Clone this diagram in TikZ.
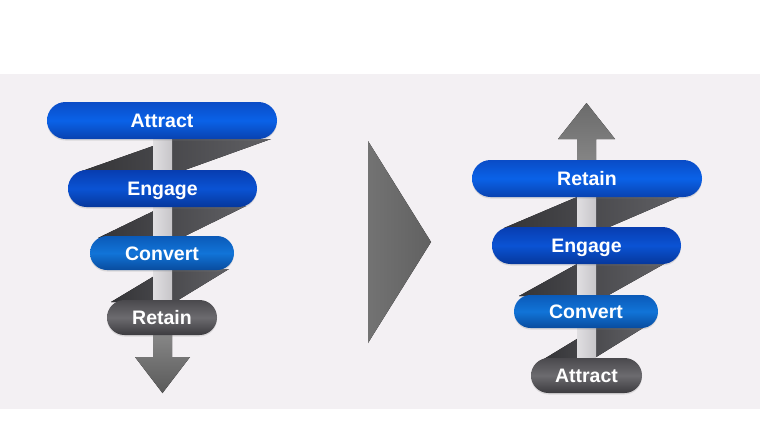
\documentclass[tikz,border=0pt]{standalone}
\usepackage{fontspec}
\setmainfont{Liberation Sans}
\usetikzlibrary{shapes.misc,shadows}
\definecolor{bgband}{HTML}{F3F0F3}
\definecolor{shaftc}{HTML}{D8D6DA}
\definecolor{bandL}{HTML}{343437}
\definecolor{bandR}{HTML}{606064}
\definecolor{aTop}{HTML}{0A4CC6}\definecolor{aMid}{HTML}{0A62E8}\definecolor{aBot}{HTML}{0942B0}
\definecolor{eTop}{HTML}{083DB0}\definecolor{eMid}{HTML}{0A53D4}\definecolor{eBot}{HTML}{06379C}
\definecolor{cTop}{HTML}{0B5AB8}\definecolor{cMid}{HTML}{1174D8}\definecolor{cBot}{HTML}{094C9E}
\definecolor{gTop}{HTML}{4A494D}\definecolor{gMid}{HTML}{6C6B6F}\definecolor{gBot}{HTML}{3C3B3F}
\tikzset{
  pill/.style={rounded rectangle, inner sep=0pt, text=white,
    font=\fontsize{19.5}{21}\selectfont\bfseries, text height=14pt, text depth=0pt,
    drop shadow={shadow xshift=0pt, shadow yshift=-1.5pt, opacity=0.22}},
  pillshade/.style n args={3}{top color=#1, bottom color=#3, middle color=#2},
  attractc/.style={pill, pillshade={aTop}{aMid}{aBot}},
  engagec/.style={pill, pillshade={eTop}{eMid}{eBot}},
  convertc/.style={pill, pillshade={cTop}{cMid}{cBot}},
  greyc/.style={pill, pillshade={gTop}{gMid}{gBot}},
  band/.style={left color=bandL, right color=bandR},
  lightshaft/.style={left color=shaftc!80!white, right color=shaftc!92!black},
}
\begin{document}
\begin{tikzpicture}[x=1pt,y=-1pt]
\useasboundingbox (0,0) rectangle (760,445);
\fill[white] (0,0) rectangle (760,445);
\fill[bgband] (0,74) rectangle (760,409);

% ---------- left diagram ----------
\fill[band] (173,139) -- (271,139) -- (182,171) -- (82,171) -- cycle;
\fill[band] (164,206) -- (246,206) -- (181,238) -- (98,238) -- cycle;
\fill[band] (166,269) -- (229,269) -- (175,302) -- (111,302) -- cycle;
\fill[lightshaft] (153,139) rectangle (172,317);
\fill[top color=black!42, bottom color=black!65]
  (153,317) -- (172,317) -- (172,357) -- (190,357) -- (162.5,393) -- (135,357) -- (153,357) -- cycle;

\node[attractc, minimum width=230pt, minimum height=37pt] (lA) at (162,120.5) {Attract};
\node[engagec, minimum width=189pt, minimum height=37pt] (lE) at (162.5,188.5) {Engage};
\node[convertc, minimum width=144pt, minimum height=34pt] (lC) at (162,253) {Convert};
\node[greyc, minimum width=110pt, minimum height=35pt] (lR) at (162,317.5) {Retain};

% ---------- middle triangle ----------
\fill[left color=black!55, right color=black!62] (368,141) -- (431,242) -- (368,343) -- cycle;

% ---------- right diagram ----------
\fill[band] (577,197) -- (679,197) -- (607,228) -- (504,228) -- cycle;
\fill[band] (577,264) -- (664,264) -- (607,296) -- (519,296) -- cycle;
\fill[band] (595,328) -- (643,328) -- (593,359) -- (544,359) -- cycle;
\fill[lightshaft] (577,178) rectangle (596,358);
\fill[top color=black!58, bottom color=black!45]
  (577,178) -- (596,178) -- (596,139) -- (615,139) -- (586.5,103) -- (558,139) -- (577,139) -- cycle;

\node[attractc, minimum width=230pt, minimum height=37pt] (rR) at (587,178.5) {Retain};
\node[engagec, minimum width=189pt, minimum height=37pt] (rE) at (586.5,245.5) {Engage};
\node[convertc, minimum width=144pt, minimum height=33pt] (rC) at (586,311.5) {Convert};
\node[greyc, minimum width=111pt, minimum height=35pt] (rA) at (586.5,375.5) {Attract};
\end{tikzpicture}
\end{document}
